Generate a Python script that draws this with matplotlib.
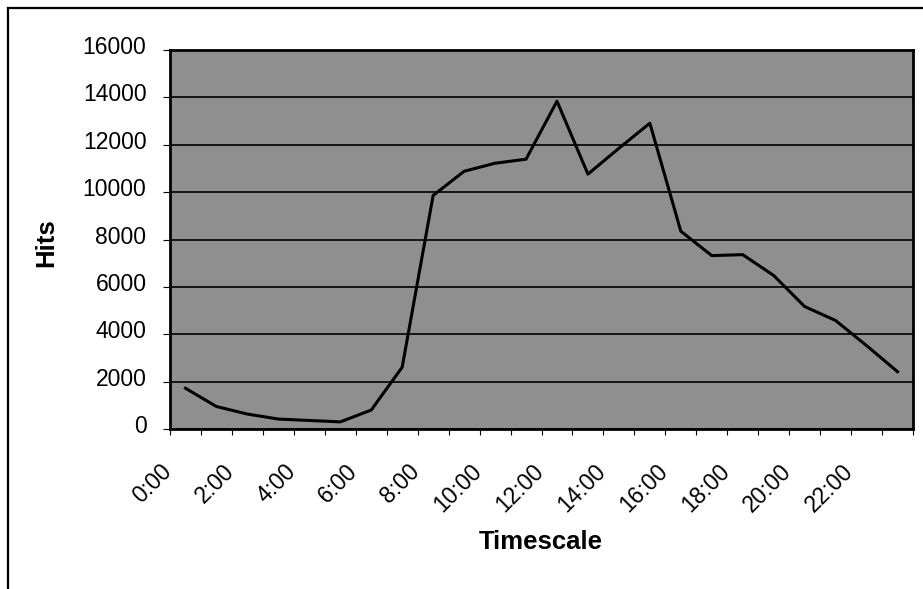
import matplotlib
matplotlib.use("Agg")
import matplotlib.pyplot as plt
import matplotlib.transforms as mtransforms
from matplotlib.lines import Line2D

# hourly hits
hours = [f"{h}:00" for h in range(24)]
hits = [1720, 950, 630, 420, 360, 300, 800, 2610,
        9860, 10880, 11220, 11390, 13840, 10760, 11850, 12910,
        8350, 7320, 7360, 6480, 5170, 4580, 3520, 2420]
y_ticks = [0, 2000, 4000, 6000, 8000, 10000, 12000, 14000, 16000]

plt.rcParams['font.family'] = ['Liberation Sans', 'DejaVu Sans']

fig = plt.figure(figsize=(9.23, 5.89), dpi=100)
ax = fig.add_axes([170/923, 1-429/589, (913-170)/923, (429-50)/589])
ax.set_facecolor('#8f8f8f')

x = list(range(len(hours)))
ax.plot(x, hits, color='black', lw=2.2, zorder=3)

ax.set_xlim(-0.5, len(hours) - 0.5)
ax.set_ylim(0, 16000)
ax.set_yticks(y_ticks)
ax.set_yticklabels([str(v) for v in y_ticks], fontsize=16.5)
ax.yaxis.grid(True, color='black', lw=1.2)
ax.set_axisbelow(True)
ax.tick_params(axis='y', direction='out', length=5, width=0.8, pad=12)

# category boundaries get tick marks, every second hour gets a label
ax.set_xticks([i - 0.5 for i in range(len(hours) + 1)], minor=True)
ax.set_xticks(x[::2])
ax.set_xticklabels(hours[::2], fontsize=16.5, rotation=45,
                   ha='right', va='center', rotation_mode='anchor')
ax.tick_params(axis='x', which='major', length=0, pad=28)
ax.tick_params(axis='x', which='minor', direction='out', length=4, width=0.8)

shift_x = mtransforms.ScaledTranslation(-17/100, 0, fig.dpi_scale_trans)
for lbl in ax.get_xticklabels():
    lbl.set_transform(lbl.get_transform() + shift_x)
shift_y = mtransforms.ScaledTranslation(0, 5/100, fig.dpi_scale_trans)
for lbl in ax.get_yticklabels():
    lbl.set_transform(lbl.get_transform() + shift_y)

for s in ax.spines.values():
    s.set_linewidth(2)
    s.set_color('black')

fig.text(46/923, 1-243/589, 'Hits', rotation=90, fontsize=18.5,
         fontweight='bold', ha='center', va='center')
fig.text(541/923, 1-542/589, 'Timescale', fontsize=18.5,
         fontweight='bold', ha='center', va='center')

# outer chart border (top and left edges)
fig.add_artist(Line2D([8/923, 1], [1-8/589, 1-8/589], color='black', lw=1.6))
fig.add_artist(Line2D([8/923, 8/923], [0, 1-8/589], color='black', lw=1.6))

fig.savefig('out.png', dpi=100)
